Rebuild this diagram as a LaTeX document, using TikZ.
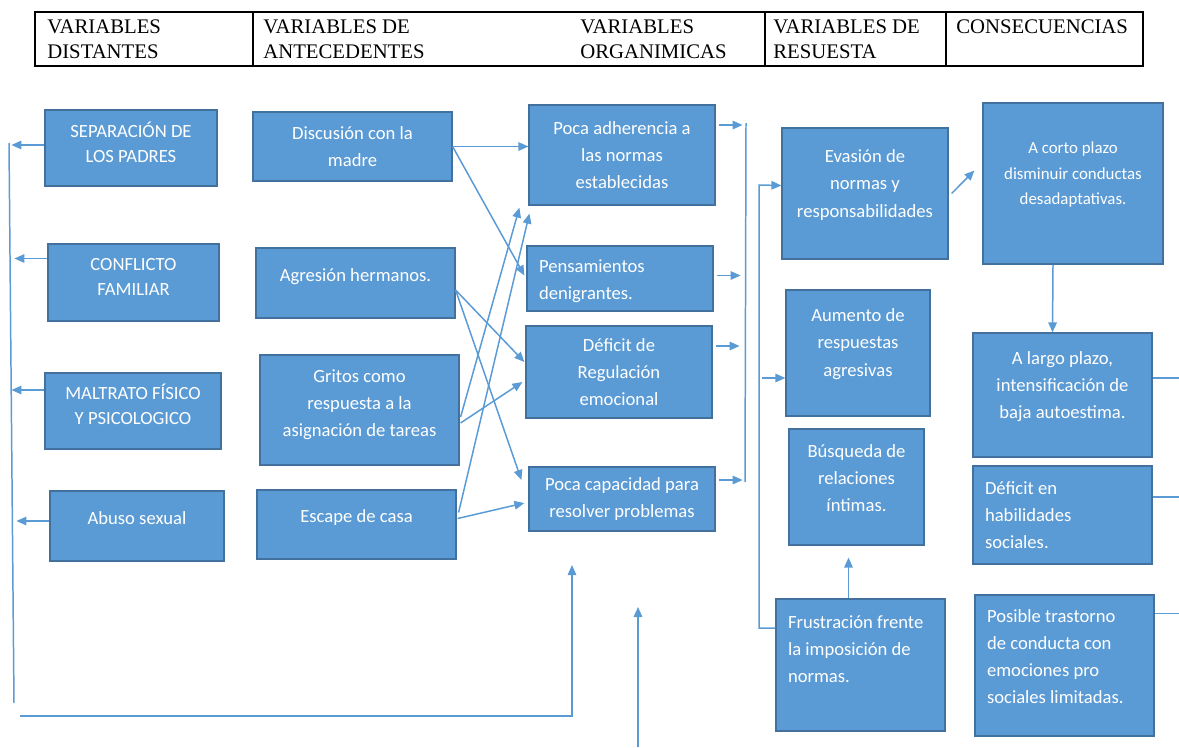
\documentclass[tikz,border=0pt]{standalone}
\usepackage{fontspec}
\setmainfont{Liberation Serif}
\newfontfamily\carlito{Carlito}
\usetikzlibrary{arrows.meta}
\definecolor{azul}{HTML}{5B9BD5}
\definecolor{azulosc}{HTML}{41719C}

\begin{document}
\begin{tikzpicture}[x=0.02cm,y=-0.02cm,
  caja/.style={draw=azulosc,fill=azul,line width=.7pt,text=white,align=center,inner sep=2pt,font=\carlito\fontsize{10.6}{15.4}\selectfont},
  mayus/.style={font=\carlito\fontsize{10.6}{14.2}\selectfont},
  izq/.style={align=flush left,text width=#1,inner xsep=0.24cm},
  sube/.style={execute at end node={\rule[-#1]{0pt}{0pt}}},
  baja/.style={execute at begin node={\rule{0pt}{#1}}},
  flecha/.style={draw=azul,line width=.85pt,-{Triangle[length=2mm,width=1.7mm]}},
  linea/.style={draw=azul,line width=.85pt},
  titulo/.style={anchor=north west,align=left,inner sep=0pt,font=\fontsize{11.8}{14.2}\selectfont}]
\useasboundingbox (0,0) rectangle (1179,747);
% cabecera
\draw[line width=.8pt] (35,12) rectangle (1143,66);
\foreach \x in {253,765,946} \draw[line width=.8pt] (\x,12) -- (\x,66);
\node[titulo] (t1) at (47,19) {VARIABLES\\DISTANTES};
\node[titulo] (t2) at (263,19) {VARIABLES DE\\ANTECEDENTES};
\node[titulo] (t3) at (580,19) {VARIABLES\\ORGANIMICAS};
\node[titulo] (t4) at (773,19) {VARIABLES DE\\RESUESTA};
\node[titulo] (t5) at (956,19) {CONSECUENCIAS};
% variables distantes
\node[caja,mayus,sube=0.24cm,minimum width=3.44cm,minimum height=1.52cm] (sep) at (131,148) {SEPARACIÓN DE\\LOS PADRES};
\node[caja,mayus,sube=0.22cm,minimum width=3.42cm,minimum height=1.54cm] (conf) at (133.5,282.5) {CONFLICTO\\FAMILIAR};
\node[caja,mayus,sube=0.26cm,minimum width=3.52cm,minimum height=1.52cm] (malt) at (133,411) {MALTRATO FÍSICO\\Y PSICOLOGICO};
\node[caja,sube=0.32cm,minimum width=3.48cm,minimum height=1.40cm] (abuso) at (137,526) {Abuso sexual};
% antecedentes
\node[caja,minimum width=3.98cm,minimum height=1.38cm] (disc) at (352.5,146.5) {Discusión con la\\madre};
\node[caja,sube=0.32cm,minimum width=3.98cm,minimum height=1.40cm] (agre) at (355.5,283) {Agresión hermanos.};
\node[caja,sube=0.26cm,minimum width=3.98cm,minimum height=2.20cm] (grit) at (359.5,410) {Gritos como\\respuesta a la\\asignación de tareas};
\node[caja,sube=0.32cm,minimum width=3.98cm,minimum height=1.38cm] (esc) at (356.5,524.5) {Escape de casa};
% organicas
\node[caja,minimum width=3.72cm,minimum height=2.00cm] (poca) at (622,155) {Poca adherencia a\\las normas\\establecidas};
\node[caja,izq=3.24cm,baja=0.38cm,minimum height=1.30cm] (pens) at (620,278.5) {Pensamientos\\denigrantes.};
\node[caja,minimum width=3.72cm,minimum height=1.84cm] (defi) at (619,372) {Déficit de\\Regulación\\emocional};
\node[caja,baja=0.38cm,minimum width=3.72cm,minimum height=1.28cm] (cap) at (622,499) {Poca capacidad para\\resolver problemas};
% respuesta
\node[caja,sube=0.40cm,minimum width=3.32cm,minimum height=2.62cm] (evas) at (865,193.5) {Evasión de\\normas y\\responsabilidades};
\node[caja,sube=0.42cm,minimum width=2.88cm,minimum height=2.52cm] (aum) at (858,353) {Aumento de\\respuestas\\agresivas};
\node[caja,sube=0.36cm,minimum width=2.70cm,minimum height=2.32cm] (busq) at (856.5,487) {Búsqueda de\\relaciones\\íntimas.};
\node[caja,izq=2.90cm,sube=0.62cm,minimum height=2.64cm] (frus) at (860.5,665) {Frustración frente\\la imposición de\\normas.};
% consecuencias
\node[caja,sube=0.40cm,minimum width=3.60cm,minimum height=3.22cm,font=\carlito\fontsize{9.6}{14.5}\selectfont] (corto) at (1073,183.5) {A corto plazo\\disminuir conductas\\desadaptativas.};
\node[caja,sube=0.40cm,minimum width=3.58cm,minimum height=2.48cm] (largo) at (1062.5,395) {A largo plazo,\\intensificación de\\baja autoestima.};
\node[caja,izq=3.10cm,minimum height=1.96cm] (defen) at (1062.5,515) {Déficit en\\habilidades\\sociales.};
\node[caja,izq=3.10cm,sube=0.36cm,minimum height=2.82cm] (posi) at (1064.5,665.5) {Posible trastorno\\de conducta con\\emociones pro\\sociales limitadas.};
% lineas de la izquierda y de abajo
\coordinate (izqA) at (9,143);
\coordinate (izqB) at (14,703);
\draw[linea] (izqA) -- (izqB);
\foreach \n/\d in {sep/-3,conf/-24,malt/-21,abuso/-5}
  \draw[flecha] ([shift={(0,\d)}]\n.west) -- ++(-33,0);
\coordinate (baseA) at (20,716);
\coordinate (puntaA) at (572,565);
\draw[flecha] (baseA) -| (puntaA);
\coordinate (pieB) at (638,747);
\coordinate (puntaB) at (638,607);
\draw[flecha] (pieB) -- (puntaB);
% antecedentes -> organicas
\draw[flecha] (disc.east) -- (disc.east -| poca.west);
\draw[flecha] (disc.east) -- ([shift={(-2,-3)}]pens.west);
\draw[flecha] ([shift={(0,7)}]agre.east) -- ([shift={(-1,-10)}]defi.west);
\draw[flecha] ([shift={(0,7)}]agre.east) -- ([shift={(-7,-19)}]cap.west);
\draw[flecha] ([shift={(1,7)}]grit.east) -- ([shift={(-9,2)}]poca.south west);
\draw[flecha] ([shift={(1,13)}]grit.east) -- ([shift={(-3,10)}]defi.west);
\draw[flecha] ([shift={(2,-12)}]esc.east) -- ([shift={(1,8)}]poca.south west);
\draw[flecha] ([shift={(1,-6)}]esc.east) -- ([shift={(-4,4)}]cap.west);
% organicas -> bus
\foreach \n/\d in {poca/-30,pens/-3,defi/-26,cap/-19}
  \draw[flecha] ([shift={(3,\d)}]\n.east) -- ++(24,0);
\coordinate (busA) at (746,123);
\coordinate (busB) at (745,482);
\draw[linea] (busA) -- (busB);
% respuesta
\coordinate (busC) at (759,185);
\draw[flecha] ([shift={(0,-37)}]frus.west) -| (busC) -- ([shift={(0,-8)}]evas.west);
\draw[flecha] ([shift={(-23,25)}]aum.west) -- ([shift={(0,25)}]aum.west);
\draw[flecha] ([shift={(-12,0)}]frus.north) -- ([shift={(-8,12)}]busq.south);
\draw[flecha] ([shift={(3,0)}]evas.east) -- ([shift={(-8,-13)}]corto.west);
% consecuencias
\draw[flecha] ([shift={(-20,0)}]corto.south) -- ([shift={(-10,0)}]largo.north);
\foreach \n/\d in {largo/-17,defen/-18,posi/-52}
  \draw[linea] ([shift={(0,\d)}]\n.east) -- ++(27,0);
\end{tikzpicture}
\end{document}
